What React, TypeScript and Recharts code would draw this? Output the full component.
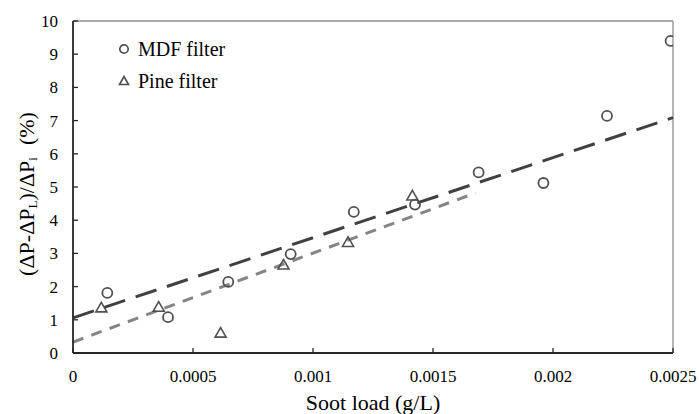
import React from 'react';
import { ScatterChart, Scatter, XAxis, YAxis, ReferenceLine } from 'recharts';

const xTicks = [0, 0.0005, 0.001, 0.0015, 0.002, 0.0025];
const xTickLabels = ['0', '0.0005', '0.001', '0.0015', '0.002', '0.0025'];
const yTicks = [0, 1, 2, 3, 4, 5, 6, 7, 8, 9, 10];

const mdfX = [0.000143, 0.000396, 0.000647, 0.000907, 0.00117, 0.001425, 0.00169, 0.00196, 0.002225, 0.00249];
const mdfY = [1.81, 1.08, 2.14, 2.98, 4.25, 4.47, 5.44, 5.12, 7.14, 9.4];
const pineX = [0.000118, 0.000357, 0.000615, 0.000877, 0.001146, 0.001414];
const pineY = [1.36, 1.38, 0.6, 2.65, 3.33, 4.73];

const mdfTrendX = [0, 0.0025];
const mdfTrendY = [1.06, 7.09];
const pineTrendX = [0, 0.001677];
const pineTrendY = [0.33, 4.82];

const legendNames = ['MDF filter', 'Pine filter'];

const mdfData = mdfX.map((x, i) => ({ x, y: mdfY[i] }));
const pineData = pineX.map((x, i) => ({ x, y: pineY[i] }));

const FONT = "'Liberation Serif', 'DejaVu Serif', serif";
const MARK = '#505050';

const CircleMark = (props: any) => (
  <circle cx={props.cx} cy={props.cy} r={5} fill="#fff" fillOpacity={0} stroke={MARK} strokeWidth={1.8} />
);
const TriMark = (props: any) => {
  const { cx, cy } = props;
  return (
    <path
      d={`M${cx},${cy - 5.5} L${cx + 5.5},${cy + 4} L${cx - 5.5},${cy + 4} Z`}
      fill="#fff"
      fillOpacity={0}
      stroke={MARK}
      strokeWidth={1.6}
    />
  );
};

const LegendBox = () => (
  <div
    style={{
      position: 'absolute',
      left: 117,
      top: 33,
      fontFamily: FONT,
      fontSize: 20,
      color: '#000',
      lineHeight: '32px',
    }}
  >
    <div style={{ display: 'flex', alignItems: 'center', height: 32 }}>
      <svg width={14} height={14}>
        <circle cx={7} cy={7} r={4.2} fill="none" stroke={MARK} strokeWidth={1.7} />
      </svg>
      <span style={{ marginLeft: 7 }}>{legendNames[0]}</span>
    </div>
    <div style={{ display: 'flex', alignItems: 'center', height: 32 }}>
      <svg width={14} height={14}>
        <path d="M7,2.5 L11.5,10.5 L2.5,10.5 Z" fill="none" stroke={MARK} strokeWidth={1.6} />
      </svg>
      <span style={{ marginLeft: 7 }}>{legendNames[1]}</span>
    </div>
  </div>
);

const YLabel = (props: any) => {
  const vb = props.viewBox || { x: 0, y: 21, width: 73, height: 332 };
  const cx = vb.x + 26;
  const cy = vb.y + vb.height / 2 + 7;
  return (
    <text
      x={cx}
      y={cy}
      transform={`rotate(-90, ${cx}, ${cy})`}
      textAnchor="middle"
      dominantBaseline="central"
      style={{ fontFamily: FONT, fontSize: 22 }}
      fill="#000"
    >
      <tspan>(ΔP-ΔP</tspan>
      <tspan style={{ fontSize: 13 }} dy={6}>L</tspan>
      <tspan dy={-6}>)/ΔP</tspan>
      <tspan style={{ fontSize: 13 }} dy={6}>i</tspan>
      <tspan dy={-6} dx={12}>(%)</tspan>
    </text>
  );
};

const XLabel = (props: any) => {
  const vb = props.viewBox || { x: 73, y: 353, width: 600, height: 61 };
  return (
    <text
      x={vb.x + vb.width / 2}
      y={vb.y + 57}
      textAnchor="middle"
      style={{ fontFamily: FONT, fontSize: 22 }}
      fill="#000"
    >
      Soot load (g/L)
    </text>
  );
};

const tickStyle = { fontFamily: FONT, fontSize: 17, fill: '#000', style: { fontFamily: FONT } };

export default function App() {
  return (
    <div style={{ position: 'absolute', left: 0, top: 0, width: 699, height: 414, background: '#fff', fontFamily: FONT }}>
      <ScatterChart width={699} height={414} margin={{ top: 21, right: 26, bottom: 0, left: 0 }} style={{ fontFamily: FONT }}>
        <XAxis
          type="number"
          dataKey="x"
          domain={[0, 0.0025]}
          ticks={xTicks}
          tickFormatter={(v: number) => xTickLabels[xTicks.indexOf(v)] ?? String(v)}
          height={61}
          tickSize={-5}
          tickMargin={22}
          axisLine={{ stroke: '#262626', strokeWidth: 1.8 }}
          tickLine={{ stroke: '#262626', strokeWidth: 1.3 }}
          tick={tickStyle}
          label={<XLabel />}
          allowDataOverflow
        />
        <YAxis
          type="number"
          dataKey="y"
          domain={[0, 10]}
          ticks={yTicks}
          width={73}
          tickSize={-5}
          tickMargin={20}
          axisLine={{ stroke: '#262626', strokeWidth: 1.8 }}
          tickLine={{ stroke: '#262626', strokeWidth: 1.3 }}
          tick={tickStyle}
          label={<YLabel />}
          allowDataOverflow
        />
        <ReferenceLine y={10} stroke="#8c8c8c" strokeWidth={1.3} />
        <ReferenceLine x={0.0025} stroke="#8c8c8c" strokeWidth={1.3} />
        <Scatter name={legendNames[0]} data={mdfData} shape={<CircleMark />} isAnimationActive={false} />
        <Scatter name={legendNames[1]} data={pineData} shape={<TriMark />} isAnimationActive={false} />
        <ReferenceLine
          segment={[
            { x: mdfTrendX[0], y: mdfTrendY[0] },
            { x: mdfTrendX[1], y: mdfTrendY[1] },
          ]}
          stroke="#404040"
          strokeWidth={3}
          strokeDasharray="22 11"
          ifOverflow="visible"
        />
        <ReferenceLine
          segment={[
            { x: pineTrendX[0], y: pineTrendY[0] },
            { x: pineTrendX[1], y: pineTrendY[1] },
          ]}
          stroke="#858585"
          strokeWidth={3}
          strokeDasharray="11 8.5"
          ifOverflow="visible"
        />
      </ScatterChart>
      <LegendBox />
    </div>
  );
}
